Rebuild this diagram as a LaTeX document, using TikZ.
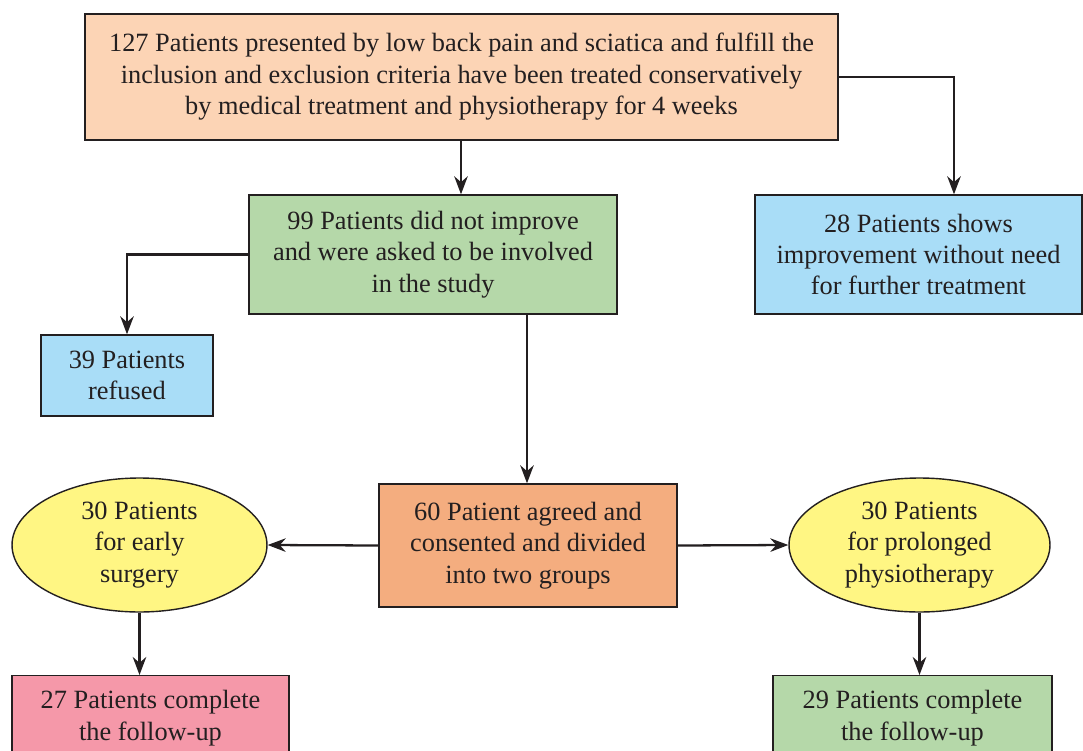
\documentclass[tikz,border=0pt]{standalone}
\usepackage{fontspec}
\setmainfont{Liberation Serif}
\usepackage{xcolor}
\usetikzlibrary{arrows.meta,positioning,shapes.geometric}
\definecolor{peach}{HTML}{FCD4B5}
\definecolor{leaf}{HTML}{B5D8A9}
\definecolor{sky}{HTML}{A9DDF7}
\definecolor{apricot}{HTML}{F4AD7F}
\definecolor{lemon}{HTML}{FFF683}
\definecolor{rose}{HTML}{F598A9}
\definecolor{ink}{HTML}{231F20}

\begin{document}
\begin{tikzpicture}[
  x=0.02cm, y=-0.02cm,
  font=\fontsize{15}{17.9}\selectfont,
  box/.style={draw=ink, line width=0.8pt, align=center, inner sep=0pt, text=ink},
  oval/.style={draw=ink, line width=0.8pt, ellipse, align=center, inner sep=0pt, fill=lemon, text=ink},
  arrow/.style={-{Stealth[length=3.6mm, width=2.7mm]}, line width=1.3pt, draw=ink}
]
\useasboundingbox (0,0) rectangle (1083,751);
\node[box, fill=peach, minimum width=15.06cm, minimum height=2.52cm] (treated) at (461.5,77)
  {127 Patients presented by low back pain and sciatica and fulfill the\\inclusion and exclusion criteria have been treated conservatively\\by medical treatment and physiotherapy for 4 weeks};
\node[box, fill=leaf, minimum width=7.36cm, minimum height=2.38cm] (noimprove) at (433,254.5)
  {99 Patients did not improve\\and were asked to be involved\\in the study};
\node[box, fill=sky, minimum width=6.54cm, minimum height=2.38cm] (improved) at (918.5,254.5)
  {28 Patients shows\\improvement without need\\for further treatment};
\node[box, fill=sky, minimum width=3.44cm, minimum height=1.62cm] (refused) at (127,375.5)
  {39 Patients\\refused};
\node[box, fill=apricot, minimum width=5.96cm, minimum height=2.46cm] (agreed) at (528,545.5)
  {60 Patient agreed and\\consented and divided\\into two groups};
\node[oval, minimum width=5.1cm, minimum height=2.68cm] (surgery) at (139.5,545)
  {30 Patients\\for early\\surgery};
\node[oval, minimum width=5.22cm, minimum height=2.68cm] (physio) at (919.5,545)
  {30 Patients\\for prolonged\\physiotherapy};
\node[box, fill=rose, minimum width=5.54cm, minimum height=1.7cm, anchor=north] (followA) at (150.5,675)
  {27 Patients complete\\the follow-up};
\node[box, fill=leaf, minimum width=5.58cm, minimum height=1.7cm, anchor=north] (followB) at (912.5,675)
  {29 Patients complete\\the follow-up};
\draw[arrow] (treated.south -| 461,0) -- (noimprove.north -| 461,0);
\draw[arrow] (treated.east) -| (improved.north -| 954,0);
\draw[arrow] (noimprove.west) -| (refused.north);
\draw[arrow] (noimprove.south -| 527,0) -- (agreed.north -| 527,0);
\draw[arrow] (agreed.west) -- (surgery.east);
\draw[arrow] (agreed.east) -- (physio.west);
\draw[arrow] (surgery.south) -- (followA.north -| surgery.south);
\draw[arrow] (physio.south) -- (followB.north -| physio.south);
\end{tikzpicture}
\end{document}
